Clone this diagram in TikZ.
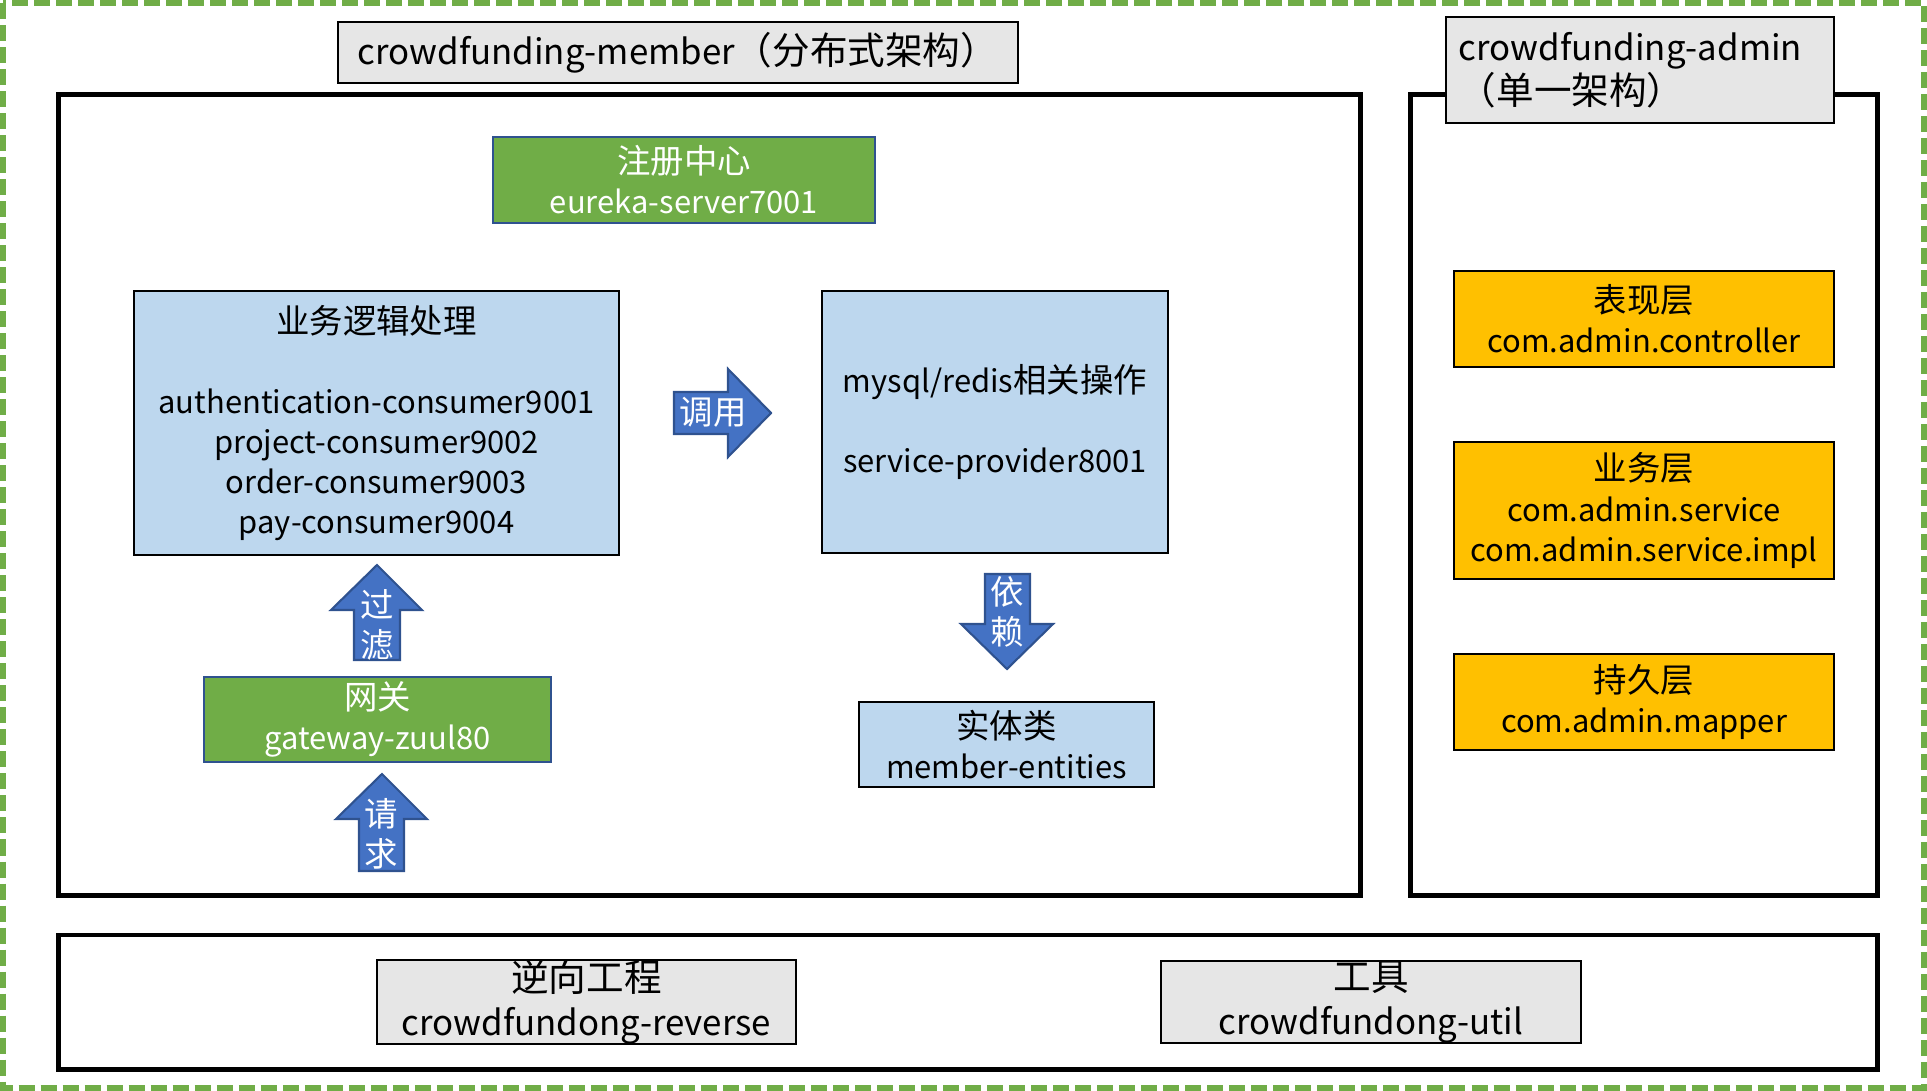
\documentclass[tikz,border=0pt]{standalone}
\usepackage{fontspec}
\setmainfont{Noto Sans CJK SC}
\newfontfamily\cjk[Scale=1.08]{Noto Sans CJK SC}
\usepackage{xcolor}
\usepackage{tikz}
\usetikzlibrary{positioning}
\definecolor{leafgreen}{HTML}{70AD47}
\definecolor{paleblue}{HTML}{BDD7EE}
\definecolor{amber}{HTML}{FFC000}
\definecolor{boxgray}{HTML}{E6E6E6}
\definecolor{arrowblue}{HTML}{4472C4}
\definecolor{arrowline}{HTML}{2F528F}
\newcommand\bodyfont{\fontsize{8.8pt}{11.4pt}\selectfont}
\newcommand\headfont{\fontsize{9.9pt}{12.6pt}\selectfont}
\newcommand\zh[1]{{\cjk #1}}
\tikzset{
  frame/.style={draw, line width=1.4pt, inner sep=0pt},
  titlebox/.style={draw, fill=boxgray, line width=0.6pt, inner sep=0pt, align=center, font=\headfont},
  greenbox/.style={draw=arrowline, fill=leafgreen, text=white, line width=0.6pt, inner sep=0pt, align=center, font=\bodyfont},
  bluebox/.style={draw, fill=paleblue, line width=0.6pt, inner sep=0pt, align=center, font=\bodyfont},
  layerbox/.style={draw, fill=amber, line width=0.6pt, inner sep=0pt, align=center, font=\bodyfont},
  flowarrow/.style={draw=arrowline, fill=arrowblue, line width=0.6pt},
  flowtext/.style={text=white, inner sep=0pt, align=center, font=\bodyfont}
}
\begin{document}
\begin{tikzpicture}[x=0.01cm, y=-0.01cm]
    \useasboundingbox (0,0) rectangle (1927,1091);
    \draw[leafgreen, line width=1.7pt, dash pattern=on 0.16cm off 0.06cm] (3,3) rectangle (1924,1088);

    \node[frame, minimum width=13.01cm, minimum height=8cm] (member) at (709.5,495) {};
    \node[frame, minimum width=4.66cm, minimum height=8cm] (admin) at (1644,495) {};
    \node[frame, minimum width=18.18cm, minimum height=1.34cm] (common) at (968,1002) {};

    \node[titlebox, minimum width=6.8cm, minimum height=0.61cm] (memberTitle) at (678,52.5) {crowdfunding-member\zh{（分布式架构）}};
    \node[titlebox, align=left, text width=3.62cm, minimum width=3.88cm, minimum height=1.06cm] (adminTitle) at (1640,70) {crowdfunding-admin\\\zh{（单一架构）}};

    \node[greenbox, minimum width=3.82cm, minimum height=0.86cm] (eureka) at (684,180) {\zh{注册中心}\\eureka-server7001};
    \node[bluebox, minimum width=4.85cm, minimum height=2.64cm] (consumer) at (376.5,423) {\zh{业务逻辑处理}\\[11.2pt]authentication-consumer9001\\project-consumer9002\\order-consumer9003\\pay-consumer9004};
    \node[bluebox, minimum width=3.46cm, minimum height=2.62cm] (provider) at (995,422) {mysql/redis\zh{相关操作}\\[11.4pt]service-provider8001};
    \node[bluebox, minimum width=2.95cm, minimum height=0.85cm] (entities) at (1006.5,744.5) {\zh{实体类}\\member-entities};
    \node[greenbox, minimum width=3.47cm, minimum height=0.85cm] (gateway) at (377.5,719.5) {\zh{网关}\\gateway-zuul80};

    \node[layerbox, minimum width=3.8cm, minimum height=0.96cm] (controller) at (1644,319) {\zh{表现层}\\com.admin.controller};
    \node[layerbox, minimum width=3.8cm, minimum height=1.37cm] (service) at (1644,510.5) {\zh{业务层}\\com.admin.service\\com.admin.service.impl};
    \node[layerbox, minimum width=3.8cm, minimum height=0.96cm] (mapper) at (1644,702) {\zh{持久层}\\com.admin.mapper};

    \node[titlebox, minimum width=4.19cm, minimum height=0.82cm] (reverse) at (586.5,1002) {\zh{逆向工程}\\crowdfundong-reverse};
    \node[titlebox, minimum width=4.2cm, minimum height=0.82cm] (util) at (1371,1002) {\zh{工具}\\crowdfundong-util};

    \draw[flowarrow] (674,392) -- (728,392) -- (728,369) -- (771,413) -- (728,457) -- (728,434) -- (674,434) -- cycle;
    \draw[flowarrow] (985,574) -- (1030,574) -- (1030,624) -- (1053,624) -- (1007,669) -- (961,624) -- (985,624) -- cycle;
    \draw[flowarrow] (377,565) -- (422,610) -- (400,610) -- (400,660) -- (354,660) -- (354,610) -- (331,610) -- cycle;
    \draw[flowarrow] (382,774) -- (427,819) -- (404,819) -- (404,871) -- (359,871) -- (359,819) -- (336,819) -- cycle;
    \node[flowtext] (callText) at (713,412) {\zh{调用}};
    \node[flowtext] (dependText) at (1007,611.5) {\zh{依}\\\zh{赖}};
    \node[flowtext] (filterText) at (377,624.5) {\zh{过}\\\zh{滤}};
    \node[flowtext] (requestText) at (381,833.5) {\zh{请}\\\zh{求}};
\end{tikzpicture}
\end{document}
